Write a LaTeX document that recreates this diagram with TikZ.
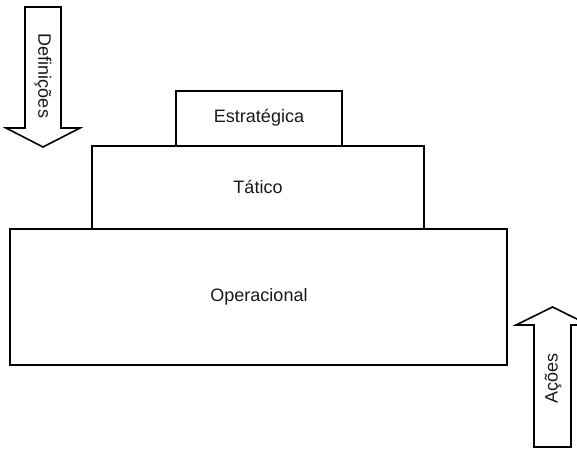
\documentclass[tikz,border=0pt]{standalone}
\usepackage{fontspec}
\setmainfont{Liberation Sans}
\begin{document}
\begin{tikzpicture}[x=1pt,y=-1pt,
  level/.style={draw=black,line width=1.6pt,fill=white},
  flow/.style={draw=black,line width=1.6pt,line join=miter,fill=white},
  lbl/.style={font=\fontsize{18}{21}\selectfont,text=black!90,inner sep=0pt}]
  \useasboundingbox (0,0) rectangle (577,450);
  \clip (0,0) rectangle (577,450);

  % pyramid of levels
  \draw[level] (10,229) rectangle (507,365);
  \draw[level] (92,146) rectangle (424,229);
  \draw[level] (176,91) rectangle (342,146);
  \node[lbl] (estr) at (259,118) {Estratégica};
  \node[lbl] (tat) at (258,187) {Tático};
  \node[lbl] (oper) at (259,297) {Operacional};

  % downward arrow: definitions
  \draw[flow] (25,7) -- (61,7) -- (61,128) -- (80,128) -- (43,147)
    -- (6,128) -- (25,128) -- cycle;
  \node[lbl,rotate=-90] (defs) at (43,76) {Definições};

  % upward arrow: actions
  \draw[flow] (534,447) -- (571,447) -- (571,325) -- (589,325) -- (552.5,307)
    -- (516,325) -- (534,325) -- cycle;
  \node[lbl,rotate=90] (acoes) at (553,378) {Ações};
\end{tikzpicture}
\end{document}
